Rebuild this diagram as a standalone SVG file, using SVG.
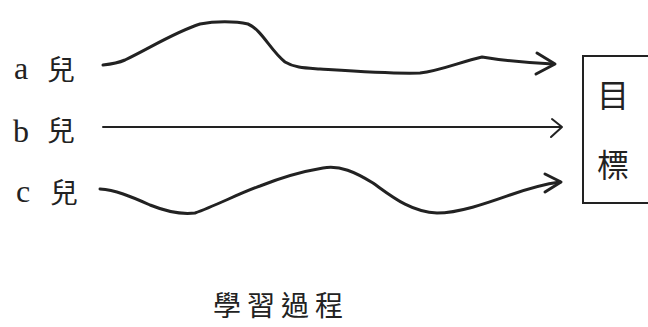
<svg xmlns="http://www.w3.org/2000/svg" width="648" height="327" viewBox="0 0 648 327">
<style>
.lat{font-family:"Liberation Serif",serif;font-size:32px;fill:#222}
.cjk{font-family:"Noto Sans CJK TC","Noto Sans CJK SC",sans-serif;font-size:28px;fill:#222}
.box{font-family:"Noto Sans CJK TC","Noto Sans CJK SC",sans-serif;font-size:32px;fill:#222;text-anchor:middle}
.w{fill:none;stroke:#222;stroke-width:3;stroke-linecap:round;stroke-linejoin:round}
.s{fill:none;stroke:#222;stroke-width:2;stroke-linecap:round;stroke-linejoin:round}
</style>
<rect width="648" height="327" fill="#fff"/>
<g id="label-a"><text class="lat" x="14" y="79">a</text><text class="cjk" x="47" y="80">兒</text></g>
<g id="label-b"><text class="lat" x="13" y="142">b</text><text class="cjk" x="47" y="141">兒</text></g>
<g id="label-c"><text class="lat" x="16" y="202">c</text><text class="cjk" x="50" y="203">兒</text></g>
<g id="goal">
<path d="M648,56 H583 V203 H648" fill="none" stroke="#222" stroke-width="2"/>
<text class="box" x="613" y="107">目</text>
<text class="box" x="613" y="177">標</text>
</g>
<g id="connectors">
<path class="w" d="M103,65 C112,64 118,63 125,60 C150,48 175,32 200,24 C215,21 235,21 248,24 C262,30 270,50 285,62 C295,68 305,68 320,69 C350,71 390,74 420,73 C440,71 460,62 482,57 C500,60 530,63 553,64"/>
<path class="w" d="M537,53 L555,64 L536,74"/>
<path class="s" d="M103,127 L561,127"/>
<path class="s" d="M552,119 L562,127 L551,137"/>
<path class="w" d="M100,189 C115,190 130,196 150,205 C165,211 180,215 195,213 C215,206 240,193 260,186 C285,176 305,171 323,168 C340,165 355,172 373,183 C390,195 410,212 437,213 C460,213 490,202 510,195 C530,188 545,184 560,182"/>
<path class="w" d="M545,174 L561,182 L545,192"/>
</g>
<g id="title"><text class="cjk" x="281" y="316" text-anchor="middle" font-size="32" letter-spacing="6">學習過程</text></g>
</svg>
